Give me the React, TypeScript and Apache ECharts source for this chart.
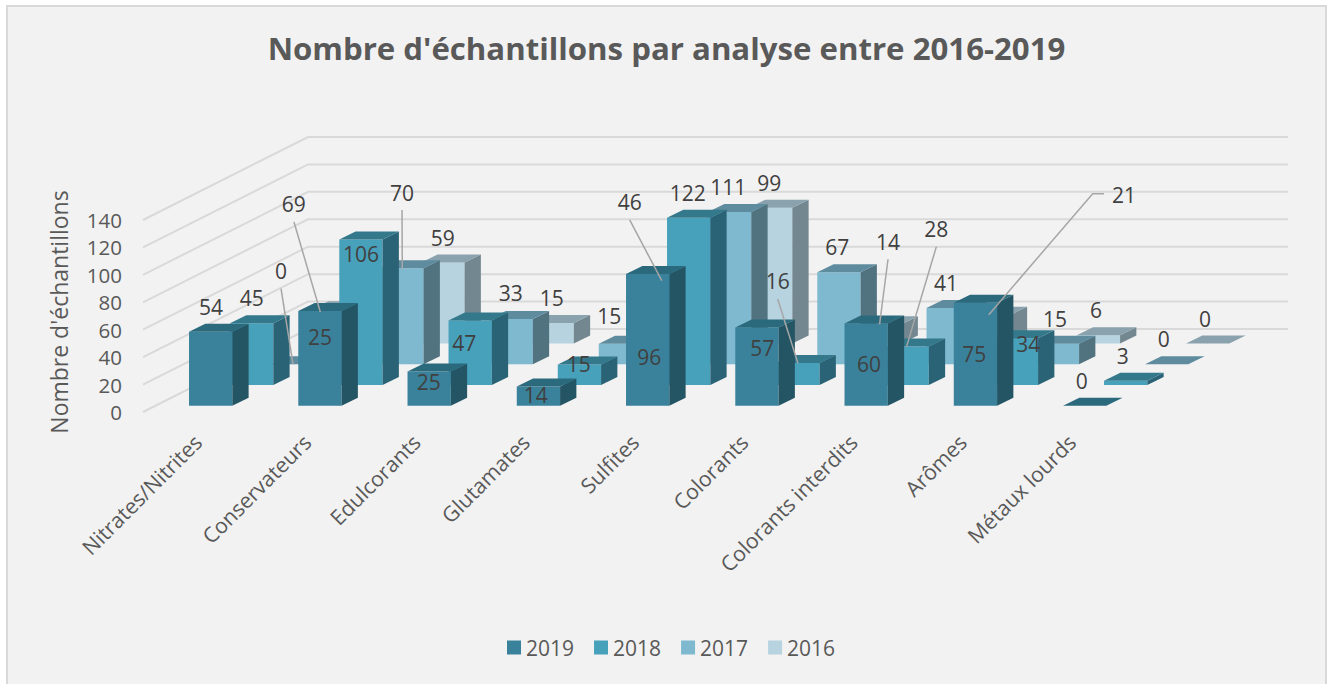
import React, { useEffect, useRef } from "react";
import * as echarts from "echarts";

const categories = ["Nitrates/Nitrites", "Conservateurs", "Edulcorants", "Glutamates", "Sulfites", "Colorants", "Colorants interdits", "Arômes", "Métaux lourds"];
const years = ["2019", "2018", "2017", "2016"];
const values2019 = [54, 69, 25, 14, 96, 57, 60, 75, 0];
const values2018 = [45, 106, 47, 15, 122, 16, 28, 34, 3];
const values2017 = [0, 70, 33, 15, 111, 67, 41, 15, 0];
const values2016 = [25, 59, 15, 46, 99, 14, 21, 6, 0];
const yTicks = [0, 20, 40, 60, 80, 100, 120, 140];
const rows = [values2019, values2018, values2017, values2016];

const FONT = "'Open Sans', sans-serif";
const faceColors = [
  { front: "#3a829b", top: "#2b6a7c", side: "#245565" },
  { front: "#48a1bb", top: "#33788b", side: "#2a6375" },
  { front: "#7eb9d0", top: "#5e8c9e", side: "#50737f" },
  { front: "#b6d3df", top: "#89a2ad", side: "#738790" },
];

// 3D projection constants (pixels)
const BAR_W = 43.3;
const BAR_DX = 16.3;
const BAR_DY = 8;
const ROW_DX = 41;
const ROW_DY = 20.75;
const FIRST_DX = -8.6;
const FIRST_DY = 6.3;
const WALL_DX = 165;
const WALL_DY = 83;
const WALL_W = 980;

// Label placement, relative to the top-centre of each bar's front face: [row][category]
type Spot = { at: number[]; leader?: number[][] };
const spots: Spot[][] = [
  [
    { at: [0.4, -24.9] },
    { at: [-26.25, -106.8], leader: [[-25.95, -89], [0.4, 0.9]] },
    { at: [-0.5, 10.3] },
    { at: [-2.75, 8.5] },
    { at: [1.7, 82.7] },
    { at: [5.45, 20.8] },
    { at: [2.9, 40.9] },
    { at: [-1.05, 50.9] },
    { at: [-3, -25] },
  ],
  [
    { at: [0, -25.5] },
    { at: [0.1, 14.7] },
    { at: [-5.8, 22.2] },
    { at: [-0.75, -0.7] },
    { at: [-1, -24.9] },
    { at: [-20.25, -82.3], leader: [[-20.25, -64], [0, 0.3]] },
    { at: [29.2, -117.9], leader: [[29.2, -99.9], [-0.6, 0.1]] },
    { at: [11.95, 5.7] },
    { at: [-3, -25.1] },
  ],
  [
    { at: [-11.65, -93.5], leader: [[-11.65, -75.5], [0.35, 0.1]] },
    { at: [0.1, -75.2], leader: [[0.1, -58.2], [0.35, 0.5]] },
    { at: [-0.5, -25.6] },
    { at: [-11.1, -27.9] },
    { at: [-1.35, -25.3] },
    { at: [-1.6, -25.6] },
    { at: [-2.15, -25.3] },
    { at: [-2.4, -24.9] },
    { at: [-3, -25.5] },
  ],
  [
    { at: [-13.65, 27.5] },
    { at: [-0.25, -24.8] },
    { at: [-0.45, -25.2] },
    { at: [-31.75, -78.7], leader: [[-31.75, -60.4], [0.35, 0.3]] },
    { at: [-1.35, -25] },
    { at: [8.1, -82.6], leader: [[8.1, -65], [-0.35, 0]] },
    { at: [134.85, -119.7], leader: [[114.85, -121], [103.5, -121], [-0.35, 0]] },
    { at: [-2.4, -25.2] },
    { at: [-2.65, -24.75] },
  ],
];

function renderBar(row: number) {
  return (_params: any, api: any) => {
    const cat = api.value(0);
    const val = api.value(1);
    const c = faceColors[row];
    const base = api.coord([cat, 0]);
    const top = api.coord([cat, val]);
    const l = base[0] + FIRST_DX + ROW_DX * row;
    const r = l + BAR_W;
    const shift = FIRST_DY + ROW_DY * row;
    const yb = base[1] - shift;
    const yt = top[1] - shift;
    const children: any[] = [];
    if (val > 0) {
      children.push({ type: "polygon", shape: { points: [[l, yb], [r, yb], [r, yt], [l, yt]] }, style: { fill: c.front } });
      children.push({ type: "polygon", shape: { points: [[r, yb], [r + BAR_DX, yb - BAR_DY], [r + BAR_DX, yt - BAR_DY], [r, yt]] }, style: { fill: c.side } });
    }
    children.push({ type: "polygon", shape: { points: [[l, yt], [r, yt], [r + BAR_DX, yt - BAR_DY], [l + BAR_DX, yt - BAR_DY]] }, style: { fill: c.top } });
    return { type: "group", children };
  };
}

function renderWall(params: any, api: any) {
  const y = api.coord([0, api.value(1)])[1];
  const x0 = params.coordSys.x;
  return {
    type: "polyline",
    shape: { points: [[x0, y], [x0 + WALL_DX, y - WALL_DY], [x0 + WALL_DX + WALL_W, y - WALL_DY]] },
    style: { stroke: "#d9d9d9", lineWidth: 2, fill: "none" },
  };
}

function renderLabel(_params: any, api: any) {
  const cat = api.value(0);
  const val = api.value(1);
  const row = api.value(2);
  const p = api.coord([cat, val]);
  const ax = p[0] + FIRST_DX + ROW_DX * row + BAR_W / 2;
  const ay = p[1] - FIRST_DY - ROW_DY * row;
  const s = spots[row][cat];
  const children: any[] = [];
  if (s.leader) {
    children.push({
      type: "polyline",
      shape: { points: s.leader.map((q) => [ax + q[0], ay + q[1]]) },
      style: { stroke: "#a6a6a6", lineWidth: 1.5, fill: "none" },
    });
  }
  children.push({
    type: "text",
    style: {
      x: ax + s.at[0],
      y: ay + s.at[1],
      text: String(val),
      fill: "#404040",
      fontFamily: FONT,
      fontSize: 21,
      align: "center",
      verticalAlign: "middle",
    },
  });
  return { type: "group", children };
}

export default function App() {
  const ref = useRef<HTMLDivElement>(null);
  useEffect(() => {
    const chart = echarts.init(ref.current!, undefined, { renderer: "svg" });
    const barSeries = [3, 2, 1, 0].map((row) => ({
      type: "custom",
      name: years[row],
      coordinateSystem: "cartesian2d",
      renderItem: renderBar(row),
      itemStyle: { color: faceColors[row].front },
      encode: { x: 0, y: 1 },
      silent: true,
      data: rows[row].map((v, i) => [i, v]),
    }));
    const labelData: number[][] = [];
    rows.forEach((vals, row) => vals.forEach((v, i) => labelData.push([i, v, row])));
    chart.setOption({
      animation: false,
      backgroundColor: "#ffffff",
      textStyle: { fontFamily: FONT },
      title: {
        text: "Nombre d'échantillons par analyse entre 2016-2019",
        left: 661.5,
        top: 27,
        textAlign: "center",
        textStyle: { fontFamily: FONT, fontSize: 31.2, fontWeight: "bold", color: "#595959" },
      },
      graphic: [
        { type: "rect", z: -10, shape: { x: 7, y: 6, width: 1319, height: 700 }, style: { fill: "#f2f2f2", stroke: "#d9d9d9", lineWidth: 2 } },
      ],
      legend: {
        data: years,
        left: 502,
        top: 632,
        icon: "rect",
        itemWidth: 14,
        itemHeight: 14,
        itemGap: 20,
        selectedMode: false,
        textStyle: { fontFamily: FONT, fontSize: 21, color: "#595959" },
      },
      grid: { left: 143, width: 983.25, top: 220, height: 192 },
      xAxis: {
        type: "category",
        data: categories,
        axisLine: { show: false },
        axisTick: { show: false },
        splitLine: { show: false },
        axisLabel: { interval: 0, rotate: 45, margin: 26, fontFamily: FONT, fontSize: 21.2, color: "#595959" },
      },
      yAxis: {
        type: "value",
        min: 0,
        max: 140,
        interval: 20,
        name: "Nombre d'échantillons",
        nameLocation: "middle",
        nameGap: 73,
        nameTextStyle: { fontFamily: FONT, fontSize: 23, color: "#595959", padding: [0, 0, 0, 8] },
        axisLine: { show: false },
        axisTick: { show: false },
        splitLine: { show: false },
        axisLabel: { margin: 21, fontFamily: FONT, fontSize: 20.5, color: "#595959" },
      },
      series: [
        {
          type: "custom",
          name: "walls",
          coordinateSystem: "cartesian2d",
          renderItem: renderWall,
          silent: true,
          data: yTicks.map((v) => [0, v]),
        },
        ...barSeries,
        {
          type: "custom",
          name: "labels",
          coordinateSystem: "cartesian2d",
          renderItem: renderLabel,
          silent: true,
          data: labelData,
        },
      ],
    });
    return () => chart.dispose();
  }, []);
  return <div ref={ref} style={{ position: "fixed", left: 0, top: 0, width: 1331, height: 684 }} />;
}
